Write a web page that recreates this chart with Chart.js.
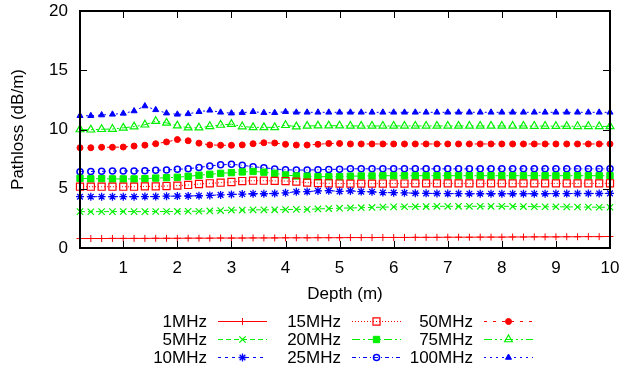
<!DOCTYPE html>
<html>
<head>
<meta charset="utf-8">
<script src="https://cdn.jsdelivr.net/npm/chart.js@4.4.1/dist/chart.umd.min.js"></script>
<style>
  html, body { margin: 0; padding: 0; background: #fff; }
  canvas { display: block; }
</style>
</head>
<body>
<canvas id="pathChart" width="619" height="369"></canvas>
<script>
// depth in metres
const depth = [0.2, 0.4, 0.6, 0.8, 1.0, 1.2, 1.4, 1.6, 1.8, 2.0,
               2.2, 2.4, 2.6, 2.8, 3.0, 3.2, 3.4, 3.6, 3.8, 4.0,
               4.2, 4.4, 4.6, 4.8, 5.0, 5.2, 5.4, 5.6, 5.8, 6.0,
               6.2, 6.4, 6.6, 6.8, 7.0, 7.2, 7.4, 7.6, 7.8, 8.0,
               8.2, 8.4, 8.6, 8.8, 9.0, 9.2, 9.4, 9.6, 9.8, 10.0];

const freqLabels = ['1MHz', '5MHz', '10MHz', '15MHz', '20MHz', '25MHz', '50MHz', '75MHz', '100MHz'];
const xTicks = [1, 2, 3, 4, 5, 6, 7, 8, 9, 10];
const yTicks = [0, 5, 10, 15, 20];

// pathloss (dB/m)
const loss1 = [0.80, 0.80, 0.80, 0.81, 0.81, 0.81, 0.81, 0.82, 0.82, 0.82,
               0.83, 0.83, 0.83, 0.84, 0.84, 0.84, 0.85, 0.85, 0.85, 0.86,
               0.86, 0.86, 0.87, 0.87, 0.87, 0.88, 0.88, 0.88, 0.89, 0.89,
               0.89, 0.90, 0.90, 0.90, 0.91, 0.91, 0.91, 0.92, 0.92, 0.92,
               0.93, 0.93, 0.94, 0.94, 0.94, 0.95, 0.95, 0.96, 0.96, 0.97];
const loss5 = [3.07, 3.06, 3.07, 3.07, 3.08, 3.07, 3.07, 3.08, 3.08, 3.09,
               3.10, 3.10, 3.13, 3.16, 3.20, 3.20, 3.22, 3.22, 3.22, 3.24,
               3.26, 3.26, 3.30, 3.33, 3.36, 3.38, 3.40, 3.42, 3.45, 3.47,
               3.48, 3.49, 3.50, 3.52, 3.52, 3.52, 3.52, 3.52, 3.52, 3.52,
               3.51, 3.50, 3.49, 3.48, 3.48, 3.47, 3.46, 3.45, 3.44, 3.44];
const loss10 = [4.33, 4.33, 4.33, 4.33, 4.33, 4.33, 4.34, 4.34, 4.37, 4.38,
                4.39, 4.41, 4.44, 4.48, 4.52, 4.55, 4.58, 4.58, 4.60, 4.66,
                4.74, 4.76, 4.82, 4.84, 4.78, 4.82, 4.76, 4.74, 4.68, 4.67,
                4.66, 4.62, 4.61, 4.60, 4.59, 4.59, 4.58, 4.58, 4.58, 4.58,
                4.58, 4.58, 4.58, 4.58, 4.59, 4.59, 4.60, 4.60, 4.60, 4.61];
const loss15 = [5.17, 5.17, 5.17, 5.17, 5.17, 5.17, 5.20, 5.20, 5.23, 5.26,
                5.32, 5.40, 5.46, 5.51, 5.57, 5.65, 5.68, 5.68, 5.66, 5.65,
                5.60, 5.52, 5.47, 5.46, 5.44, 5.43, 5.43, 5.43, 5.44, 5.44,
                5.44, 5.45, 5.45, 5.45, 5.45, 5.45, 5.45, 5.45, 5.45, 5.45,
                5.45, 5.45, 5.45, 5.45, 5.45, 5.45, 5.45, 5.45, 5.45, 5.46];
const loss20 = [5.88, 5.84, 5.85, 5.83, 5.83, 5.83, 5.85, 5.90, 5.93, 5.97,
                6.05, 6.14, 6.22, 6.30, 6.36, 6.42, 6.46, 6.40, 6.30, 6.16,
                6.08, 6.06, 6.02, 6.02, 6.02, 6.06, 6.08, 6.08, 6.10, 6.10,
                6.10, 6.10, 6.10, 6.10, 6.10, 6.10, 6.10, 6.10, 6.10, 6.10,
                6.10, 6.10, 6.10, 6.10, 6.10, 6.10, 6.10, 6.10, 6.10, 6.10];
const loss25 = [6.44, 6.46, 6.47, 6.49, 6.50, 6.50, 6.52, 6.56, 6.58, 6.64,
                6.69, 6.80, 6.92, 7.02, 7.06, 6.98, 6.86, 6.78, 6.67, 6.60,
                6.58, 6.58, 6.60, 6.63, 6.65, 6.68, 6.68, 6.68, 6.68, 6.68,
                6.68, 6.68, 6.68, 6.68, 6.68, 6.68, 6.68, 6.68, 6.68, 6.68,
                6.68, 6.68, 6.68, 6.68, 6.68, 6.68, 6.68, 6.68, 6.68, 6.68];
const loss50 = [8.46, 8.46, 8.50, 8.50, 8.52, 8.60, 8.68, 8.80, 8.95, 9.15,
                9.05, 8.85, 8.70, 8.67, 8.67, 8.70, 8.80, 8.88, 8.86, 8.75,
                8.69, 8.69, 8.75, 8.82, 8.82, 8.78, 8.78, 8.78, 8.78, 8.78,
                8.78, 8.78, 8.78, 8.78, 8.78, 8.78, 8.78, 8.78, 8.78, 8.78,
                8.78, 8.78, 8.78, 8.78, 8.78, 8.78, 8.78, 8.78, 8.78, 8.78];
const loss75 = [10.00, 9.98, 10.02, 10.04, 10.14, 10.24, 10.40, 10.70, 10.56, 10.32,
                10.15, 10.15, 10.27, 10.38, 10.45, 10.25, 10.18, 10.18, 10.18, 10.36,
                10.24, 10.30, 10.32, 10.32, 10.32, 10.30, 10.30, 10.30, 10.30, 10.30,
                10.30, 10.30, 10.30, 10.30, 10.30, 10.30, 10.30, 10.30, 10.30, 10.30,
                10.30, 10.30, 10.29, 10.29, 10.28, 10.28, 10.27, 10.27, 10.26, 10.26];
const loss100 = [11.16, 11.16, 11.22, 11.28, 11.36, 11.56, 11.98, 11.66, 11.38, 11.28,
                 11.32, 11.50, 11.62, 11.45, 11.38, 11.42, 11.50, 11.42, 11.42, 11.50,
                 11.45, 11.45, 11.45, 11.45, 11.45, 11.45, 11.45, 11.45, 11.45, 11.45,
                 11.45, 11.45, 11.45, 11.45, 11.45, 11.45, 11.45, 11.45, 11.45, 11.45,
                 11.45, 11.45, 11.45, 11.45, 11.45, 11.45, 11.45, 11.45, 11.45, 11.45];

const RED = '#ff0000', GREEN = '#00f000', BLUE = '#0000ff';
const FONT = { family: '"Liberation Sans", Arial, Helvetica, sans-serif', size: 17 };
const NONE = 'rgba(0,0,0,0)';

// gnuplot-like line/point styles, one per series
const styles = [
    { color: RED,   dash: [],            point: 'cross',    radius: 3.5, fill: false, pw: 1 },
    { color: GREEN, dash: [5, 3],        point: 'crossRot', radius: 4.5, fill: false, pw: 1.2 },
    { color: BLUE,  dash: [3, 4],        point: 'star',     radius: 4,   fill: false, pw: 1.3 },
    { color: RED,   dash: [1, 2],        point: 'rect',     radius: 5,   fill: false, pw: 1.2 },
    { color: GREEN, dash: [8, 3, 2, 3],  point: 'rect',     radius: 4.5, fill: true,  pw: 1 },
    { color: BLUE,  dash: [4, 3, 1, 3],  point: 'circle',   radius: 3,   fill: false, pw: 1.5 },
    { color: RED,   dash: [3, 6],        point: 'circle',   radius: 3,   fill: true,  pw: 1 },
    { color: GREEN, dash: [8, 3, 2, 3, 2, 3], point: 'triangle', radius: 4.5, fill: false, pw: 1.2 },
    { color: BLUE,  dash: [2, 4],        point: 'triangle', radius: 3.5, fill: true,  pw: 1 }
];
const series = [loss1, loss5, loss10, loss15, loss20, loss25, loss50, loss75, loss100];

const datasets = series.map((vals, i) => {
    const s = styles[i];
    return {
        label: freqLabels[i],
        data: vals.map((v, j) => ({ x: depth[j], y: v })),
        borderColor: s.color,
        borderWidth: 1,
        borderDash: s.dash,
        pointStyle: s.point,
        pointRadius: s.radius,
        pointBorderWidth: s.pw,
        pointBorderColor: s.color,
        pointBackgroundColor: s.fill ? s.color : NONE,
        fill: false,
        tension: 0,
        clip: false
    };
});

// frame, inward ticks and the 3x3 gnuplot-style key
const gnuplotFrame = {
    id: 'gnuplotFrame',
    afterDraw(chart) {
        const ctx = chart.ctx;
        const area = chart.chartArea;
        const xs = chart.scales.x, ys = chart.scales.y;
        ctx.save();
        ctx.strokeStyle = '#000';
        ctx.lineWidth = 1;
        ctx.setLineDash([]);
        ctx.beginPath();
        xTicks.forEach(v => {
            const px = Math.round(xs.getPixelForValue(v)) + 0.5;
            ctx.moveTo(px, area.bottom); ctx.lineTo(px, area.bottom - 7);
            ctx.moveTo(px, area.top); ctx.lineTo(px, area.top + 7);
        });
        yTicks.forEach(v => {
            const py = Math.round(ys.getPixelForValue(v)) + 0.5;
            ctx.moveTo(area.left, py); ctx.lineTo(area.left + 7, py);
            ctx.moveTo(area.right, py); ctx.lineTo(area.right - 7, py);
        });
        ctx.stroke();
        ctx.lineWidth = 2;
        ctx.strokeRect(area.left, area.top, area.right - area.left, area.bottom - area.top);

        // key
        const labelRight = [207, 341, 473];
        const rowY = [321, 339, 357];
        ctx.font = FONT.size + 'px ' + FONT.family;
        ctx.fillStyle = '#000';
        ctx.textAlign = 'right';
        ctx.textBaseline = 'middle';
        chart.data.datasets.forEach((ds, i) => {
            const col = Math.floor(i / 3), row = i % 3;
            const s = styles[i];
            const y = rowY[row];
            const x0 = labelRight[col] + 11, x1 = x0 + 49;
            ctx.fillText(ds.label, labelRight[col], y + 1);
            ctx.save();
            ctx.strokeStyle = s.color;
            ctx.lineWidth = 1;
            ctx.setLineDash(s.dash);
            ctx.beginPath();
            ctx.moveTo(x0, y + 0.5); ctx.lineTo(x1, y + 0.5);
            ctx.stroke();
            ctx.setLineDash([]);
            ctx.strokeStyle = s.color;
            ctx.fillStyle = s.fill ? s.color : NONE;
            ctx.lineWidth = s.pw;
            Chart.helpers.drawPoint(ctx, { pointStyle: s.point, radius: s.radius, rotation: 0, borderWidth: s.pw }, (x0 + x1) / 2, y + 0.5);
            ctx.restore();
        });
        ctx.restore();
    }
};

const ctx = document.getElementById('pathChart').getContext('2d');
new Chart(ctx, {
    type: 'line',
    data: { datasets: datasets },
    plugins: [gnuplotFrame],
    options: {
        responsive: false,
        animation: false,
        layout: { padding: { left: 0, right: 9, top: 11, bottom: 61 } },
        plugins: { legend: { display: false }, tooltip: { enabled: false } },
        scales: {
            x: {
                type: 'linear',
                min: 0.2,
                max: 10,
                afterBuildTicks: scale => {
                    scale.ticks = xTicks.map(v => ({ value: v }));
                },
                afterFit: scale => {
                    scale.height = 60;
                    scale.paddingLeft = 0;
                    scale.paddingRight = 0;
                },
                ticks: { color: '#000', font: FONT, padding: 10, maxRotation: 0, autoSkip: false },
                grid: { display: false, drawTicks: false },
                border: { display: false },
                title: { display: true, text: 'Depth (m)', color: '#000', font: FONT, padding: { top: 0, bottom: 3 } }
            },
            y: {
                min: 0,
                max: 20,
                afterBuildTicks: scale => {
                    scale.ticks = yTicks.map(v => ({ value: v }));
                },
                afterFit: scale => {
                    scale.width = 80;
                    scale.paddingTop = 0;
                    scale.paddingBottom = 0;
                },
                ticks: { color: '#000', font: FONT, padding: 12 },
                grid: { display: false, drawTicks: false },
                border: { display: false },
                title: { display: true, text: 'Pathloss (dB/m)', color: '#000', font: FONT, padding: { top: 8, bottom: 0 } }
            }
        }
    }
});
</script>
</body>
</html>
